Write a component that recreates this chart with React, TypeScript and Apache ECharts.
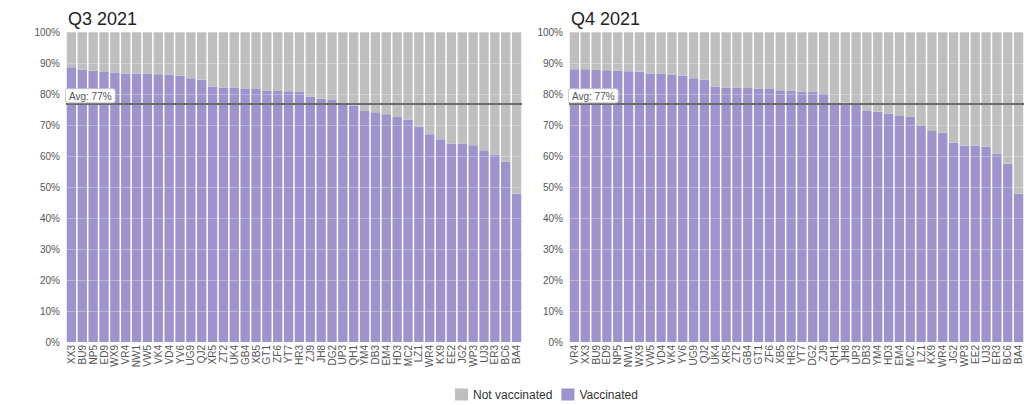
import React, { useEffect, useRef } from "react";
import * as echarts from "echarts";

const q3Categories = ["XX3","BU9","NP5","ED9","WX9","VR4","NW1","VW5","VK4","VD4","YV6","UG9","QJ2","XR5","ZT2","UK4","GB4","XB5","GT1","ZF6","YT7","HR3","ZJ9","JH8","DG2","UP3","QH1","YM4","DB3","EM4","HD3","MC2","LZ1","WR4","KX9","EE2","JG2","WP3","UJ3","ER3","BC6","BA4"];
const q3Vaccinated = [88.6,87.8,87.5,87.1,86.9,86.6,86.6,86.6,86.4,86.3,86.0,85.1,84.6,82.3,82.1,82.0,81.8,81.6,81.1,81.0,80.9,80.8,79.2,78.5,78.2,76.6,76.3,74.5,74.1,73.5,72.6,71.8,69.5,67.0,65.4,64.0,64.0,63.5,61.6,60.5,58.2,47.8];

const q4Categories = ["VR4","XX3","BU9","ED9","NP5","NW1","WX9","VW5","VD4","VK4","YV6","UG9","QJ2","UK4","XR5","ZT2","GB4","GT1","ZF6","XB5","HR3","YT7","DG2","ZJ9","QH1","JH8","UP3","DB3","YM4","HD3","EM4","MC2","LZ1","KX9","WR4","JG2","WP3","EE2","UJ3","ER3","BC6","BA4"];
const q4Vaccinated = [88.0,88.0,87.8,87.7,87.6,87.3,87.2,86.6,86.5,86.3,86.0,85.1,84.7,82.3,82.1,82.0,81.9,81.8,81.6,81.2,81.0,80.8,80.8,80.0,77.3,77.2,77.0,74.5,74.3,73.7,72.9,72.6,69.9,68.1,67.5,64.3,63.4,63.4,63.0,60.7,57.5,47.8];

const titles = ["Q3 2021", "Q4 2021"];
const averages = [77, 77];
const seriesNames = ["Not vaccinated", "Vaccinated"];

const PURPLE = "#9e93cd";
const GRAY = "#bfbfbf";

export default function App() {
  const ref = useRef<HTMLDivElement>(null);
  useEffect(() => {
    if (!ref.current) return;
    const chart = echarts.init(ref.current, null, { renderer: "svg" });
    const cats = [q3Categories, q4Categories];
    const vals = [q3Vaccinated, q4Vaccinated];
    const grids = [
      { left: 66, top: 32, width: 456, height: 310 },
      { left: 569, top: 32, width: 455, height: 310 },
    ];
    const series: any[] = [];
    [0, 1].forEach((i) => {
      series.push({
        name: seriesNames[1],
        type: "bar",
        stack: "s" + i,
        xAxisIndex: i,
        yAxisIndex: i,
        barCategoryGap: "14%",
        itemStyle: { color: PURPLE },
        data: vals[i],
        markLine: {
          silent: true,
          symbol: "none",
          lineStyle: { color: "#6b6b6b", width: 2, type: "solid" },
          label: {
            position: "insideStartTop",
            distance: [0, 1],
            formatter: "Avg: " + averages[i] + "%",
            backgroundColor: "#ffffff",
            borderColor: "#cccccc",
            borderWidth: 1,
            borderRadius: 2,
            padding: [2, 3, 1, 3],
            color: "#555555",
            fontSize: 10,
            fontFamily: "Liberation Sans, Arial, sans-serif",
          },
          data: [{ yAxis: averages[i] }],
          z: 10,
        },
      });
      series.push({
        name: seriesNames[0],
        type: "bar",
        stack: "s" + i,
        xAxisIndex: i,
        yAxisIndex: i,
        barCategoryGap: "14%",
        itemStyle: { color: GRAY },
        data: vals[i].map((v) => +(100 - v).toFixed(1)),
      });
    });
    chart.setOption({
      animation: false,
      textStyle: { fontFamily: "Liberation Sans, Arial, sans-serif" },
      title: titles.map((t, i) => ({
        text: t,
        left: grids[i].left - 3,
        top: 5,
        textStyle: { fontSize: 18, fontWeight: "normal", color: "#222222" },
      })),
      legend: {
        data: seriesNames,
        top: 388,
        left: 455,
        itemWidth: 13,
        itemHeight: 12,
        itemGap: 9,
        padding: 0,
        icon: "rect",
        textStyle: { fontSize: 12, lineHeight: 13, color: "#333333" },
      },
      grid: grids,
      xAxis: [0, 1].map((i) => ({
        type: "category",
        gridIndex: i,
        data: cats[i],
        axisLine: { show: false },
        axisTick: { show: false },
        axisLabel: { rotate: 90, interval: 0, fontSize: 10, color: "#555555", margin: 3 },
      })),
      yAxis: [0, 1].map((i) => ({
        type: "value",
        gridIndex: i,
        min: 0,
        max: 100,
        interval: 10,
        z: 5,
        axisLine: { show: false },
        axisTick: { show: false },
        axisLabel: { formatter: "{value}%", fontSize: 10, color: "#555555", margin: 6 },
        splitLine: { show: true, lineStyle: { color: "rgba(255,255,255,0.3)", width: 1 } },
      })),
      series,
    });
    return () => chart.dispose();
  }, []);
  return (
    <div
      ref={ref}
      style={{ position: "fixed", left: 0, top: 0, width: 1036, height: 405, background: "#fff" }}
    />
  );
}
